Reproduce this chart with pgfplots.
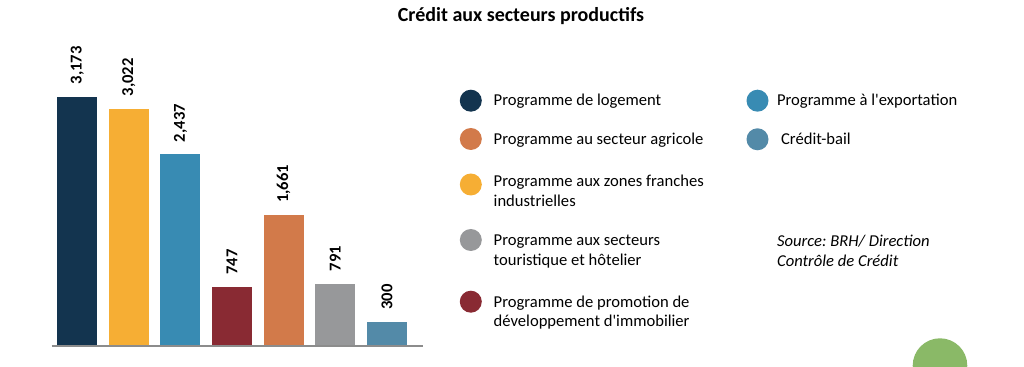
\documentclass[border=0pt]{standalone}
\usepackage{pgfplots}
\pgfplotsset{compat=1.18}
\usepackage{fontspec}
\setmainfont{Carlito}
\frenchspacing
\definecolor{cnavy}{HTML}{13344F}
\definecolor{cyellow}{HTML}{F6AE34}
\definecolor{cblue}{HTML}{388BB3}
\definecolor{cred}{HTML}{892A33}
\definecolor{corange}{HTML}{D27A4A}
\definecolor{cgray}{HTML}{97989A}
\definecolor{csteel}{HTML}{538AA8}
\definecolor{cgreen}{HTML}{8AB967}
\definecolor{caxis}{HTML}{8C8C8C}
\newcommand{\lf}{\fontsize{8.3}{10}\selectfont}
\begin{document}
\begin{tikzpicture}
\path[use as bounding box] (0,0) rectangle (512pt,-183.5pt);
\begin{axis}[at={(25.85pt,-172.85pt)}, anchor=south west,
  scale only axis, width=185.65pt, height=124.5pt,
  xmin=-0.496, xmax=6.70, ymin=0, ymax=3173,
  axis lines=none, ybar, bar width=20pt, clip=false,
  nodes near coords={\pgfmathprintnumber[1000 sep={,}, assume math mode=true]{\pgfplotspointmeta}},
  nodes near coords align=horizontal,
  every node near coord/.append style={rotate=90, anchor=west, font=\bfseries\lf, inner xsep=6pt, text=black},
  mybar/.style={fill=#1, draw=none, bar shift=0pt}]
\addplot[mybar=cnavy] coordinates {(0,3173)};
\addplot[mybar=cyellow] coordinates {(1,3022)};
\addplot[mybar=cblue] coordinates {(2,2437)};
\addplot[mybar=cred] coordinates {(3,747)};
\addplot[mybar=corange] coordinates {(4,1661)};
\addplot[mybar=cgray] coordinates {(5,791)};
\addplot[mybar=csteel] coordinates {(6,300)};
\draw[caxis, line width=1pt] (rel axis cs:0,0) -- (rel axis cs:1,0);
\end{axis}
\begin{scope}[x=0.5pt,y=-0.5pt]
\node[anchor=base, font=\bfseries\fontsize{10}{12}\selectfont] at (521,22) {Crédit aux secteurs productifs};
\fill[cnavy] (470.8,100.7) circle (11);
\fill[corange] (470.8,139) circle (11);
\fill[cyellow] (470.8,184.5) circle (11);
\fill[cgray] (470.8,240) circle (11);
\fill[cred] (470.8,301.7) circle (11);
\fill[cblue] (757.5,100.7) circle (11);
\fill[csteel] (757.5,139.3) circle (11);
\begin{scope}[every node/.style={anchor=base west, inner sep=0pt, font=\lf}]
\node at (493.3,106) {Programme de logement};
\node at (493.3,144.5) {Programme au secteur agricole};
\node at (493.3,187) {Programme aux zones franches};
\node at (493.3,207) {industrielles};
\node at (493.3,246) {Programme aux secteurs};
\node at (493.3,266) {touristique et hôtelier};
\node at (493.3,307.5) {Programme de promotion de};
\node at (493.3,327) {développement d\textquotesingle immobilier};
\node at (776.7,106) {Programme à l\textquotesingle exportation};
\node at (780.7,145) {Crédit-bail};
\node[font=\itshape\lf] at (776.7,246.5) {Source: BRH/ Direction};
\node[font=\itshape\lf] at (776.7,266.5) {Contrôle de Crédit};
\end{scope}
\begin{scope}
\clip (0,0) rectangle (1024,367);
\fill[cgreen] (940,365.6) circle (27.3);
\end{scope}
\end{scope}
\end{tikzpicture}
\end{document}
